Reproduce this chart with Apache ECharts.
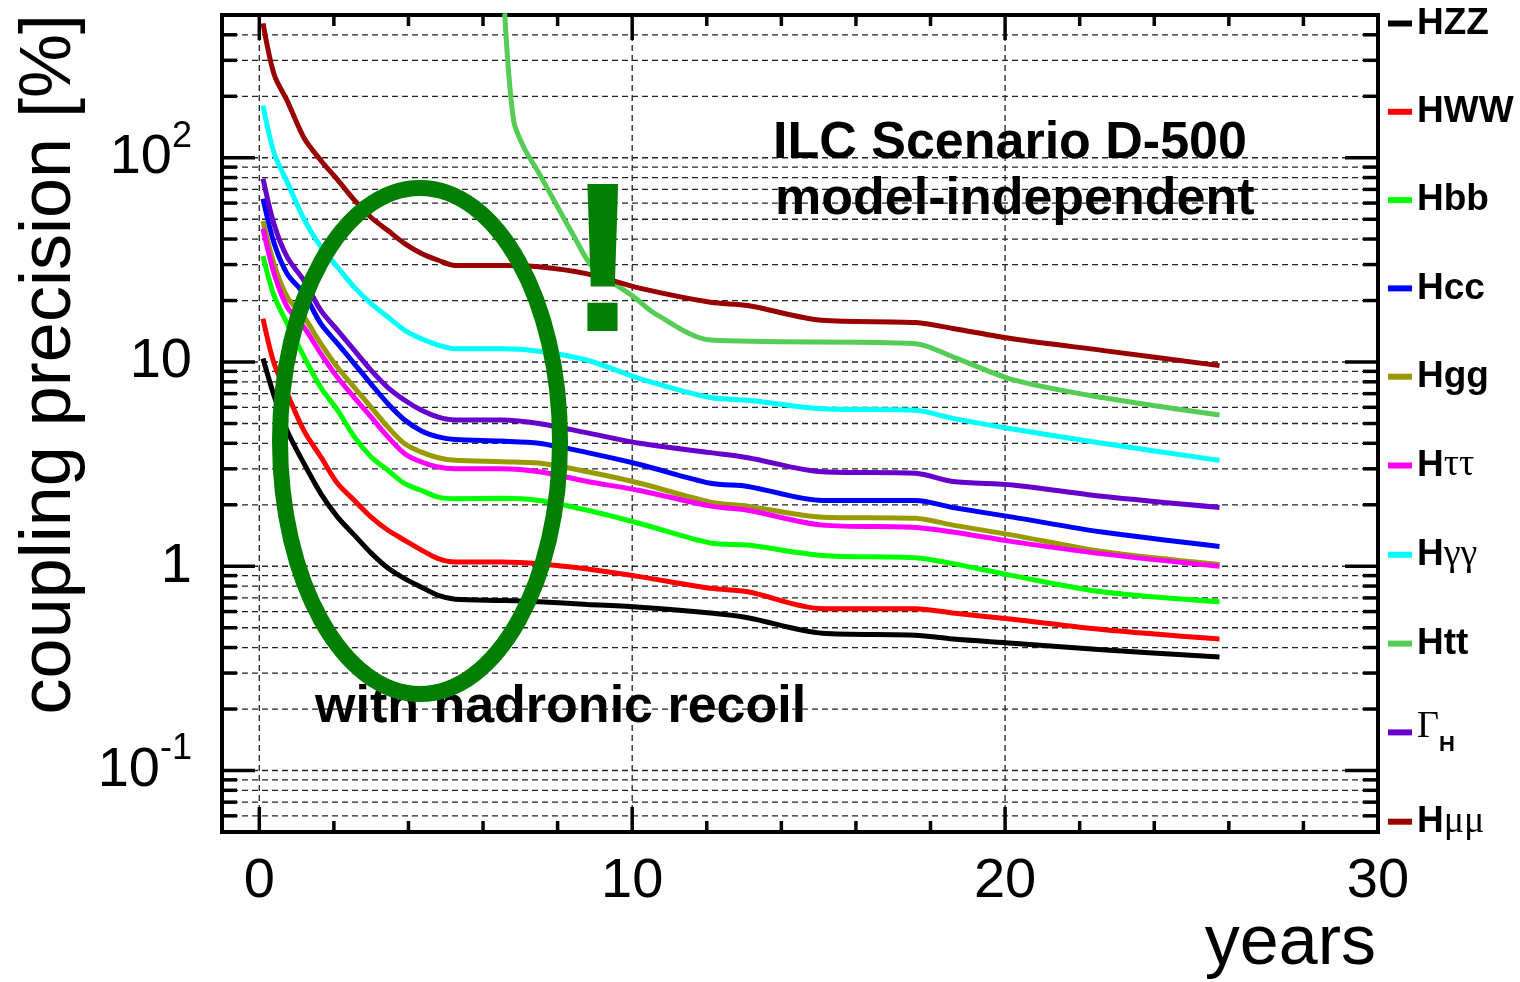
<!DOCTYPE html>
<html>
<head>
<meta charset="utf-8">
<script src="https://cdn.jsdelivr.net/npm/echarts@6/dist/echarts.min.js"></script>
<style>
  html, body { margin: 0; padding: 0; background: #fff; }
  #chart { width: 1520px; height: 982px; }
</style>
</head>
<body>
<div id="chart"></div>
<script>
// sampling years shared by the nine curves that start at year 0
const years = [0.1, 0.4, 0.75, 1.2, 1.65, 2.1, 2.55, 3.0, 3.45, 3.9, 4.35, 4.8, 5.25,
  6.5, 7.5, 8.8, 10.2, 12.1, 13.1, 15.1, 17.6, 18.6, 20.2, 22.6, 25.75];

// coupling precision in %
const hzz     = [10.4, 6.8, 4.6, 3.18, 2.27, 1.74, 1.42, 1.16, 0.98, 0.87, 0.79, 0.72, 0.69, 0.68, 0.67, 0.65, 0.63, 0.59, 0.56, 0.47, 0.46, 0.44, 0.42, 0.39, 0.36];
const hww     = [16.3, 9.8, 7.0, 4.6, 3.43, 2.54, 2.1, 1.74, 1.5, 1.34, 1.2, 1.09, 1.05, 1.05, 1.03, 0.97, 0.89, 0.78, 0.75, 0.62, 0.62, 0.59, 0.55, 0.49, 0.44];
const hbb     = [33, 21, 15.4, 10.6, 7.5, 5.8, 4.3, 3.43, 2.95, 2.54, 2.35, 2.18, 2.14, 2.15, 2.1, 1.88, 1.62, 1.30, 1.27, 1.13, 1.1, 1.03, 0.9, 0.75, 0.67];
const hcc     = [63, 38, 27, 21.6, 15.4, 12.3, 9.8, 7.8, 6.25, 5.2, 4.6, 4.3, 4.17, 4.1, 4.0, 3.6, 3.15, 2.55, 2.46, 2.1, 2.1, 1.94, 1.74, 1.47, 1.25];
const hgg     = [49, 30, 20.8, 16.6, 12.3, 9.4, 7.5, 6.0, 4.8, 3.98, 3.62, 3.4, 3.3, 3.25, 3.2, 2.9, 2.55, 2.06, 1.97, 1.74, 1.72, 1.59, 1.42, 1.18, 1.02];
const htautau = [45, 27, 18.6, 14.8, 11.0, 8.4, 6.7, 5.37, 4.3, 3.56, 3.24, 3.06, 3.0, 3.0, 2.9, 2.6, 2.35, 1.97, 1.88, 1.59, 1.55, 1.47, 1.32, 1.15, 1.0];
const hgamgam = [180, 105, 76, 50, 36.6, 29.1, 23.2, 19.3, 16.6, 14.3, 13.0, 12.1, 11.6, 11.6, 11.3, 10.2, 8.3, 6.7, 6.5, 5.9, 5.8, 5.3, 4.7, 4.0, 3.3];
const gammaH  = [79, 47, 32.6, 25, 17.9, 14.3, 11.4, 9.1, 7.5, 6.5, 5.8, 5.37, 5.2, 5.2, 5.0, 4.5, 4.0, 3.6, 3.4, 2.9, 2.85, 2.6, 2.5, 2.2, 1.94];
const hmumu   = [455, 255, 190, 125, 97, 78, 62, 51, 44, 38, 34, 31.5, 29.7, 29.7, 29.3, 27, 23, 19.6, 18.9, 16.0, 15.6, 14.6, 13.0, 11.4, 9.6];

// Htt only starts once the 500 GeV running begins
const yearsTth = [6.58, 6.82, 7.1, 7.5, 7.9, 8.4, 8.95, 10.05, 10.6, 12.1, 17.6, 18.6, 20.2, 22.6, 25.75];
const htt      = [510, 152, 112, 84, 62, 42.5, 29, 20.8, 17.3, 12.8, 12.3, 10.6, 8.2, 6.7, 5.5];

const names  = ['HZZ', 'HWW', 'Hbb', 'Hcc', 'Hgg', 'Hττ', 'Hγγ', 'Htt', 'ΓH', 'Hμμ'];
const colors = ['#000000', '#ff0000', '#00ff00', '#0000ff', '#999900', '#ff00ff', '#00ffff', '#55cc55', '#6600cc', '#990000'];
const curves = [hzz, hww, hbb, hcc, hgg, htautau, hgamgam, htt, gammaH, hmumu];
const curveYears = [years, years, years, years, years, years, years, yearsTth, years, years];

// axis ticks
const xTickYears = [0, 2, 4, 6, 8, 10, 12, 14, 16, 18, 20, 22, 24, 26, 28, 30];
const xLabelYears = [0, 10, 20, 30];
const yDecades = [0.01, 0.1, 1, 10, 100];
const yMantissas = [1, 2, 3, 4, 5, 6, 7, 8, 9];

const FONT = '"Liberation Sans", Arial, Helvetica, sans-serif';
const SERIF = '"Liberation Serif", "DejaVu Serif", serif';

const yTicks = [];
yDecades.forEach(d => yMantissas.forEach(m => {
  const v = Number((m * d).toPrecision(3));
  if (v > 0.05 && v < 500) yTicks.push(v);
}));

function isDecade(v) {
  const l = Math.log10(v);
  return Math.abs(l - Math.round(l)) < 1e-6;
}

function renderYGrid(params, api) {
  const cs = params.coordSys;
  const v = api.value(1);
  const y = api.coord([0, v])[1];
  const len = isDecade(v) ? 33 : 15;
  const l = cs.x, r = cs.x + cs.width;
  return {
    type: 'group',
    children: [
      { type: 'line', shape: { x1: l, y1: y, x2: r, y2: y }, style: { stroke: '#222', lineWidth: 1.3, lineDash: [6, 4] } },
      { type: 'line', shape: { x1: l, y1: y, x2: l + len, y2: y }, style: { stroke: '#000', lineWidth: 3.5 } },
      { type: 'line', shape: { x1: r - len, y1: y, x2: r, y2: y }, style: { stroke: '#000', lineWidth: 3.5 } }
    ]
  };
}

function renderXGrid(params, api) {
  const cs = params.coordSys;
  const yr = api.value(0);
  const x = api.coord([yr, 1])[0];
  const major = xLabelYears.indexOf(yr) >= 0;
  const len = major ? 25 : 11;
  const t = cs.y, b = cs.y + cs.height;
  const children = [
    { type: 'line', shape: { x1: x, y1: b - len, x2: x, y2: b }, style: { stroke: '#000', lineWidth: 3.5 } },
    { type: 'line', shape: { x1: x, y1: t, x2: x, y2: t + len }, style: { stroke: '#000', lineWidth: 3.5 } }
  ];
  if (major && x < cs.x + cs.width - 5) {
    children.unshift({ type: 'line', shape: { x1: x, y1: t, x2: x, y2: b }, style: { stroke: '#222', lineWidth: 1.3, lineDash: [6, 4] } });
  }
  return { type: 'group', children: children };
}

const legendLabels = {
  'HZZ': '{b|HZZ}',
  'HWW': '{b|HWW}',
  'Hbb': '{b|Hbb}',
  'Hcc': '{b|Hcc}',
  'Hgg': '{b|Hgg}',
  'Hττ': '{b|H}{g|ττ}',
  'Hγγ': '{b|H}{g|γγ}',
  'Htt': '{b|Htt}',
  'ΓH': '{G|Γ}{sub|H}',
  'Hμμ': '{b|H}{g|μμ}'
};

const lineSeries = names.map((n, i) => ({
  name: n,
  type: 'line',
  data: curveYears[i].map((x, j) => [x, curves[i][j]]),
  showSymbol: false,
  symbol: 'none',
  smooth: 0.3,
  lineStyle: { color: colors[i], width: 5 },
  itemStyle: { color: colors[i] },
  z: 3
}));

const chart = echarts.init(document.getElementById('chart'));
const option = {
  animation: false,
  backgroundColor: '#fff',
  grid: {
    left: 222, top: 15, width: 1156, height: 817,
    show: true, borderColor: '#000', borderWidth: 4, backgroundColor: 'transparent'
  },
  xAxis: {
    type: 'value', min: -1, max: 30, interval: 1,
    axisLine: { show: false }, axisTick: { show: false }, splitLine: { show: false },
    axisLabel: {
      margin: 22, color: '#000', fontSize: 56, fontFamily: FONT,
      formatter: v => (xLabelYears.indexOf(v) >= 0 ? String(v) : '')
    }
  },
  yAxis: {
    type: 'log', logBase: 10, min: 0.05, max: 500,
    axisLine: { show: false }, axisTick: { show: false }, splitLine: { show: false },
    axisLabel: {
      margin: 30, color: '#000',
      formatter: v => {
        if (!isDecade(v)) return '';
        const p = Math.round(Math.log10(v));
        if (p === 0) return '{m|1}';
        if (p === 1) return '{m|10}';
        return '{m|10}{s|' + p + '}';
      },
      rich: {
        m: { fontSize: 56, fontFamily: FONT, color: '#000', lineHeight: 56 },
        s: { fontSize: 36, fontFamily: FONT, color: '#000', lineHeight: 36, padding: [0, 0, 42, 0] }
      }
    }
  },
  legend: {
    orient: 'vertical', left: 1388, top: 0, padding: 0,
    itemGap: 41.3, itemWidth: 24, itemHeight: 6, icon: 'rect',
    selectedMode: false,
    data: names,
    formatter: n => legendLabels[n],
    textStyle: {
      color: '#000',
      rich: {
        b: { fontSize: 37, fontWeight: 'bold', fontFamily: FONT, color: '#000', lineHeight: 38, padding: [5, 0, 5, 0] },
        g: { fontSize: 38, fontFamily: SERIF, color: '#000', lineHeight: 38, padding: [5, 0, 5, 0] },
        G: { fontSize: 38, fontFamily: SERIF, color: '#000', lineHeight: 38, padding: [0, 0, 10, 0] },
        sub: { fontSize: 22, fontWeight: 'bold', fontFamily: FONT, color: '#000', lineHeight: 22, padding: [26, 0, 0, 0] }
      }
    }
  },
  graphic: [
    {
      type: 'text', x: 50, y: 14, rotation: Math.PI / 2, z: 50,
      style: { text: 'coupling precision [%]', fontSize: 72, fontFamily: FONT, fill: '#000',
        align: 'right', verticalAlign: 'middle', textAlign: 'right', textVerticalAlign: 'middle' }
    },
    {
      type: 'text', x: 1376, y: 945, z: 50,
      style: { text: 'years', fontSize: 70, fontFamily: FONT, fill: '#000',
        align: 'right', verticalAlign: 'middle', textAlign: 'right', textVerticalAlign: 'middle' }
    },
    {
      type: 'text', x: 773, y: 144, z: 50,
      style: { text: 'ILC Scenario D-500', fontSize: 52, fontWeight: 'bold', fontFamily: FONT, fill: '#000',
        align: 'left', verticalAlign: 'middle', textAlign: 'left', textVerticalAlign: 'middle' }
    },
    {
      type: 'text', x: 775, y: 200, z: 50,
      style: { text: 'model-independent', fontSize: 52, fontWeight: 'bold', fontFamily: FONT, fill: '#000',
        align: 'left', verticalAlign: 'middle', textAlign: 'left', textVerticalAlign: 'middle' }
    },
    {
      type: 'text', x: 315, y: 708, z: 50,
      style: { text: 'with hadronic recoil', fontSize: 52, fontWeight: 'bold', fontFamily: FONT, fill: '#000',
        align: 'left', verticalAlign: 'middle', textAlign: 'left', textVerticalAlign: 'middle' }
    },
    {
      type: 'text', x: 603, y: 272, z: 60,
      style: { text: '!', fontSize: 214, fontWeight: 'bold', fontFamily: FONT, fill: '#007f00',
        align: 'center', verticalAlign: 'middle', textAlign: 'center', textVerticalAlign: 'middle' }
    },
    {
      type: 'ellipse', z: 100,
      shape: { cx: 420, cy: 441, rx: 140, ry: 253 },
      style: { fill: 'none', stroke: '#007f00', lineWidth: 16 }
    }
  ],
  series: [
    {
      type: 'custom', name: 'ygrid', silent: true, z: 1,
      data: yTicks.map(v => [0, v]),
      renderItem: renderYGrid
    },
    {
      type: 'custom', name: 'xgrid', silent: true, z: 1,
      data: xTickYears.map(x => [x, 1]),
      renderItem: renderXGrid
    }
  ].concat(lineSeries)
};
chart.setOption(option);
</script>
</body>
</html>
